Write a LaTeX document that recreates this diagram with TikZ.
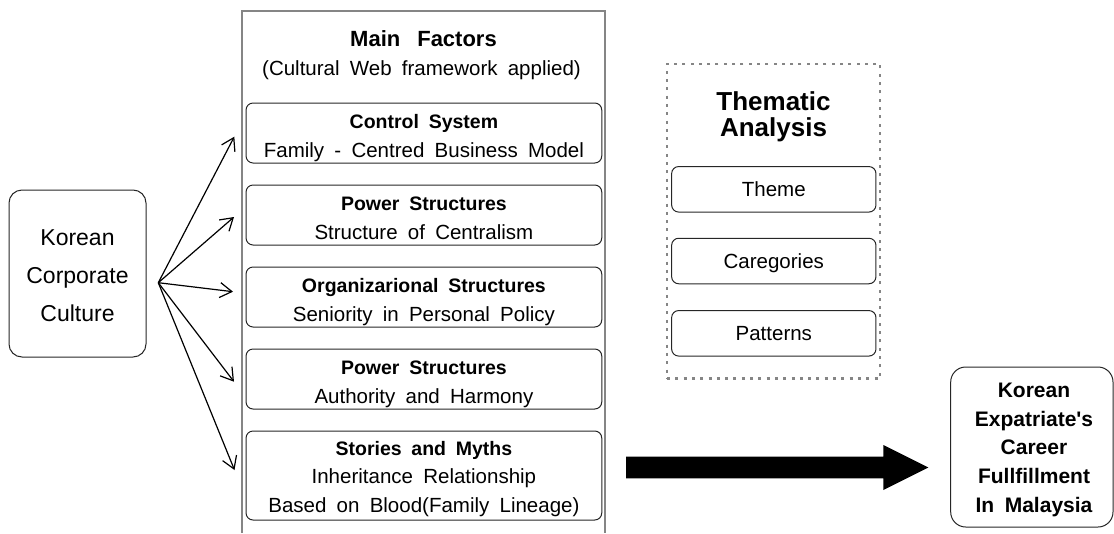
\documentclass[tikz,border=0pt]{standalone}
\usepackage{fontspec}
\newfontfamily\lsans{Liberation Sans}[WordSpace=1.8]
\usetikzlibrary{arrows.meta,calc}
\tikzset{
  factorbox/.style={draw=black!85, line width=1pt, rounded corners=7pt, minimum width=355.7pt, minimum height=60pt, inner sep=0pt},
  thembox/.style={draw=black!85, line width=1pt, rounded corners=7pt, minimum width=204.3pt, minimum height=45.5pt, inner sep=0pt},
  sidebox/.style={draw=black!85, line width=1pt, inner sep=0pt},
  mainframe/.style={draw=black!48, line width=2.3pt, line join=miter},
  dotframe/.style={draw=black!48, line width=2.6pt, dash pattern=on 3pt off 5.3pt, minimum width=213pt, minimum height=314.3pt, inner sep=0pt},
  headtxt/.style={font=\lsans\bfseries\fontsize{19.5}{22}\selectfont, inner sep=0pt, anchor=base},
  bodytxt/.style={font=\lsans\fontsize{20.5}{24}\selectfont, inner sep=0pt, anchor=base},
  bigtxt/.style={font=\lsans\fontsize{23}{26}\selectfont, inner sep=0pt, anchor=base},
  rbtxt/.style={font=\lsans\bfseries\fontsize{21}{24}\selectfont, inner sep=0pt, anchor=base},
  conn/.style={draw=black, line width=1.2pt, -{Straight Barb[length=12pt,width=15pt,line width=1.2pt]}},
}
\begin{document}
\begin{tikzpicture}[x=1pt,y=-1pt]
\useasboundingbox (0,0) rectangle (1114,533);

% main frame (open at bottom)
\coordinate (mbl) at (241.7,533);
\coordinate (mtl) at (241.7,10.7);
\coordinate (mtr) at (605,10.7);
\coordinate (mbr) at (605,533);
\draw[mainframe] (mbl) -- (mtl) -- (mtr) -- (mbr);

\node[font=\lsans\bfseries\fontsize{22}{25}\selectfont, inner sep=0pt, anchor=base] (mft) at (423.5,46.7) {Main\hspace{17pt}Factors};
\node[bodytxt] (mfs) at (421.5,75) {(Cultural Web framework applied)};

% factor boxes
\node[factorbox] (f1) at (423.9,133) {};
\node[headtxt] (f1h) at (423.9,128) {Control System};
\node[bodytxt] (f1b) at (423.9,157.3) {Family - Centred Business Model};

\node[factorbox] (f2) at (423.9,215) {};
\node[headtxt] (f2h) at (423.9,210) {Power Structures};
\node[bodytxt] (f2b) at (423.9,239.3) {Structure of Centralism};

\node[factorbox] (f3) at (423.9,297) {};
\node[headtxt] (f3h) at (423.9,292) {Organizarional Structures};
\node[bodytxt] (f3b) at (423.9,321.3) {Seniority in Personal Policy};

\node[factorbox] (f4) at (423.9,379) {};
\node[headtxt] (f4h) at (423.9,374) {Power Structures};
\node[bodytxt] (f4b) at (423.9,403.3) {Authority and Harmony};

\node[factorbox, minimum height=89pt] (f5) at (423.9,475.5) {};
\node[headtxt] (f5h) at (423.9,455) {Stories and Myths};
\node[bodytxt] (f5b) at (423.9,483.5) {Inheritance Relationship};
\node[bodytxt] (f5c) at (423.9,512) {Based on Blood(Family Lineage)};

% left box
\node[sidebox, rounded corners=13pt, minimum width=137pt, minimum height=167pt] (kcc) at (77.5,273.5) {};
\node[bigtxt] (k1) at (77.5,245) {Korean};
\node[bigtxt] (k2) at (77.5,283.3) {Corporate};
\node[bigtxt] (k3) at (77.5,321.7) {Culture};

% arrows
\coordinate (src) at (158.3,282.7);
\coordinate (t1) at (234.3,136.7);
\coordinate (t2) at (234,217);
\coordinate (t3) at (233,291.7);
\coordinate (t4) at (234,381.7);
\coordinate (t5) at (234.5,470);
\draw[conn] (src) -- (t1);
\draw[conn] (src) -- (t2);
\draw[conn] (src) -- (t3);
\draw[conn] (src) -- (t4);
\draw[conn] (src) -- (t5);

% thematic analysis
\node[dotframe] (ta) at (773.5,221.2) {};
\node[font=\lsans\bfseries\fontsize{26}{27}\selectfont, inner sep=0pt, anchor=base] (tat1) at (773.5,110) {Thematic};
\node[font=\lsans\bfseries\fontsize{26}{27}\selectfont, inner sep=0pt, anchor=base] (tat2) at (773.5,136) {Analysis};

\node[thembox] (th1) at (773.8,189.3) {};
\node[bodytxt] (th1t) at (773.8,196.6) {Theme};
\node[thembox] (th2) at (773.8,261) {};
\node[bodytxt] (th2t) at (773.8,268.3) {Caregories};
\node[thembox] (th3) at (773.8,333.3) {};
\node[bodytxt] (th3t) at (773.8,340.6) {Patterns};

% right box
\node[sidebox, rounded corners=15pt, minimum width=162.3pt, minimum height=160pt] (kec) at (1031.85,447) {};
\node[rbtxt] (r1) at (1034,397.3) {Korean};
\node[rbtxt] (r2) at (1034,426) {Expatriate's};
\node[rbtxt] (r3) at (1034,454.7) {Career};
\node[rbtxt] (r4) at (1034,483.3) {Fullfillment};
\node[rbtxt] (r5) at (1034,512) {In Malaysia};

% big arrow
\coordinate (bs) at (626,467.5);
\coordinate (bt) at (928.3,467.5);
\fill[black] ($(bs)+(0,-10.8)$) -- ($(bt)+(-45,-10.8)$) -- ($(bt)+(-45,-22.5)$) -- (bt)
  -- ($(bt)+(-45,22.5)$) -- ($(bt)+(-45,10.8)$) -- ($(bs)+(0,10.8)$) -- cycle;
\end{tikzpicture}
\end{document}
